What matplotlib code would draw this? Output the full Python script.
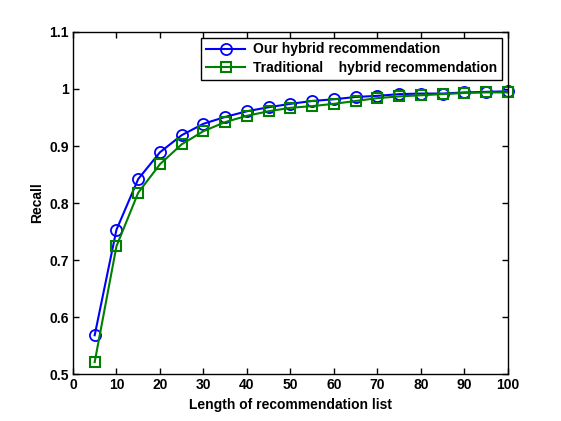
import matplotlib
matplotlib.use('Agg')
import matplotlib.pyplot as plt

# list length
lengths = [5, 10, 15, 20, 25, 30, 35, 40, 45, 50, 55, 60, 65, 70, 75, 80, 85, 90, 95, 100]

# recall values
recall_ours = [0.568, 0.753, 0.842, 0.889, 0.919, 0.939, 0.951, 0.961, 0.968, 0.974,
               0.979, 0.982, 0.986, 0.988, 0.991, 0.992, 0.992, 0.994, 0.995, 0.996]
recall_trad = [0.521, 0.724, 0.818, 0.868, 0.903, 0.926, 0.942, 0.953, 0.961, 0.967,
               0.970, 0.974, 0.979, 0.984, 0.987, 0.989, 0.991, 0.993, 0.994, 0.994]

plt.rcParams['font.family'] = ['Liberation Sans', 'DejaVu Sans']
plt.rcParams['font.weight'] = 'bold'

fig = plt.figure(figsize=(5.61, 4.21), dpi=100)
ax = fig.add_axes([0.13, 0.1116, 0.7755, 0.8124])

ax.plot(lengths, recall_ours, color='#0000ff', lw=1.5, marker='o', ms=8,
        mfc='none', mew=1.3, label='Our hybrid recommendation', clip_on=False)
ax.plot(lengths, recall_trad, color='#008000', lw=1.5, marker='s', ms=7,
        mfc='none', mew=1.5, label='Traditional    hybrid recommendation', clip_on=False)

ax.set_xlim(0, 100)
ax.set_ylim(0.5, 1.1)
ax.set_xticks(range(0, 101, 10))
ax.set_yticks([0.5, 0.6, 0.7, 0.8, 0.9, 1.0, 1.1])
ax.set_yticklabels(['0.5', '0.6', '0.7', '0.8', '0.9', '1', '1.1'])
ax.tick_params(direction='in', top=True, right=True, length=4, width=1,
               labelsize=10, pad=3)
for s in ax.spines.values():
    s.set_linewidth(1)

ax.set_xlabel('Length of recommendation list', fontsize=10, fontweight='bold')
ax.set_ylabel('Recall', fontsize=10, fontweight='bold')

leg = ax.legend(loc='upper right', fontsize=10, fancybox=False, framealpha=1,
                edgecolor='black', borderaxespad=0.4, handlelength=2.8,
                handletextpad=0.6, borderpad=0.35, labelspacing=0.35)
leg.get_frame().set_linewidth(1)

fig.savefig('out.png', dpi=100)
